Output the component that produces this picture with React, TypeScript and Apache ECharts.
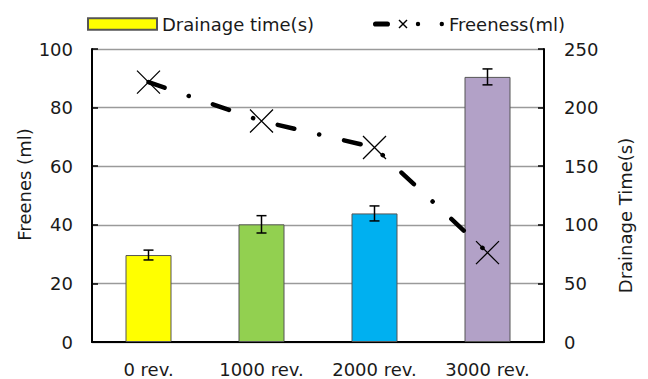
import React, { useEffect, useRef } from "react";
import * as echarts from "echarts";

const categories = ["0 rev.", "1000 rev.", "2000 rev.", "3000 rev."];
const drainageTime = [74.2, 100.4, 109.7, 226.2];
const drainageErr = [4.2, 7.4, 6.4, 6.8];
const freeness = [88.7, 75.4, 66.4, 30.5];
const barColors = ["#FFFF00", "#92D050", "#00B0F0", "#B2A1C7"];
const leftTicks = { min: 0, max: 100, interval: 20 };
const rightTicks = { min: 0, max: 250, interval: 50 };

const FONT = "DejaVu Sans";
const TXT = "#1a1a1a";

const freenessIcon =
  "path://M0,0L0.01,0L0.01,0.01Z M71,10L70.99,10L70.99,9.99Z " +
  "M2.6,2.4L14.4,2.4A2.6,2.6 0 0 1 14.4,7.6L2.6,7.6A2.6,2.6 0 0 1 2.6,2.4Z " +
  "M25.5,1.5L26.5,0.5L34.5,8.5L33.5,9.5Z M33.5,0.5L34.5,1.5L26.5,9.5L25.5,8.5Z " +
  "M42.8,5A2.2,2.2 0 1 0 47.2,5A2.2,2.2 0 1 0 42.8,5Z " +
  "M66.6,5A2.2,2.2 0 1 0 71,5A2.2,2.2 0 1 0 66.6,5Z";

export default function App() {
  const ref = useRef<HTMLDivElement>(null);
  useEffect(() => {
    if (!ref.current) return;
    const chart = echarts.init(ref.current, undefined, { renderer: "svg" });
    const errData = drainageTime.map((v, i) => [i, v - drainageErr[i], v + drainageErr[i]]);
    chart.setOption({
      animation: false,
      textStyle: { fontFamily: FONT, color: TXT },
      legend: [
        {
          data: [{ name: "Drainage time(s)", icon: "rect" }],
          left: 82,
          top: 10,
          itemWidth: 69,
          itemHeight: 11.5,
          itemGap: 0,
          textStyle: { fontFamily: FONT, fontSize: 18, color: TXT },
        },
        {
          data: [{ name: "Freeness(ml)", icon: freenessIcon }],
          left: 368,
          top: 10,
          itemWidth: 71,
          itemHeight: 10,
          itemStyle: { color: "#000", borderWidth: 0 },
          textStyle: { fontFamily: FONT, fontSize: 18, color: TXT },
        },
      ],
      grid: { left: 92, right: 104, top: 49, bottom: 37 },
      xAxis: [
        {
          type: "category",
          data: categories,
          boundaryGap: true,
          axisLine: { lineStyle: { color: "#000", width: 2 } },
          axisTick: { inside: true, length: 5, lineStyle: { color: "#000", width: 1.5 } },
          axisLabel: { interval: 0, fontFamily: FONT, fontSize: 18, color: TXT, margin: 18 },
        },
        {
          type: "category",
          data: categories,
          position: "bottom",
          boundaryGap: true,
          axisLine: { show: false },
          axisTick: { alignWithLabel: true, interval: 0, inside: true, length: 5, lineStyle: { color: "#000", width: 1.5 } },
          axisLabel: { show: false },
        },
      ],
      yAxis: [
        {
          type: "value",
          ...leftTicks,
          name: "Freenes (ml)",
          nameLocation: "middle",
          nameGap: 59,
          nameMoveOverlap: false,
          nameTextStyle: { fontFamily: FONT, fontSize: 18, color: TXT, padding: [0, 0, 0, 22] },
          axisLine: { show: true, lineStyle: { color: "#000", width: 2 } },
          axisTick: { show: true, inside: true, length: 6, lineStyle: { color: "#000", width: 1.5 } },
          axisLabel: { fontFamily: FONT, fontSize: 18, color: TXT, margin: 19 },
          splitLine: { show: true, lineStyle: { color: "#9a9a9a", width: 1.3 } },
        },
        {
          type: "value",
          ...rightTicks,
          position: "right",
          name: "Drainage Time(s)",
          nameLocation: "middle",
          nameGap: 72,
          nameMoveOverlap: false,
          nameTextStyle: { fontFamily: FONT, fontSize: 18, color: TXT, padding: [0, 40, 0, 0] },
          axisLine: { show: true, lineStyle: { color: "#000", width: 2 } },
          axisTick: { show: true, inside: true, length: 6, lineStyle: { color: "#000", width: 1.5 } },
          axisLabel: { fontFamily: FONT, fontSize: 18, color: TXT, margin: 20 },
          splitLine: { show: false },
        },
      ],
      series: [
        {
          name: "Drainage time(s)",
          type: "bar",
          xAxisIndex: 0,
          yAxisIndex: 1,
          barWidth: 46,
          itemStyle: { color: barColors[0], borderColor: "#555", borderWidth: 1 },
          data: drainageTime.map((v, i) => ({ value: v, itemStyle: { color: barColors[i] } })),
        },
        {
          name: "err",
          type: "custom",
          xAxisIndex: 0,
          yAxisIndex: 1,
          encode: { x: 0, y: [1, 2] },
          data: errData,
          z: 3,
          renderItem: (params: any, api: any) => {
            const x = api.value(0);
            const lo = api.coord([x, api.value(1)]);
            const hi = api.coord([x, api.value(2)]);
            const hw = 5;
            const st = { stroke: "#000", lineWidth: 1.5 };
            return {
              type: "group",
              children: [
                { type: "line", shape: { x1: lo[0], y1: lo[1], x2: hi[0], y2: hi[1] }, style: st },
                { type: "line", shape: { x1: lo[0] - hw, y1: lo[1], x2: lo[0] + hw, y2: lo[1] }, style: st },
                { type: "line", shape: { x1: hi[0] - hw, y1: hi[1], x2: hi[0] + hw, y2: hi[1] }, style: st },
              ],
            };
          },
        },
        {
          name: "Freeness(ml)",
          type: "line",
          xAxisIndex: 0,
          yAxisIndex: 0,
          z: 5,
          data: freeness,
          symbol: "path://M0,0L10,10M10,0L0,10",
          symbolSize: 23,
          itemStyle: { color: "#000", borderColor: "#000", borderWidth: 1.3 },
          lineStyle: { color: "#000", width: 4.5, type: [17, 25.5, 0.1, 25.5], cap: "round" },
        },
      ],
    });
    return () => chart.dispose();
  }, []);
  return (
    <div
      ref={ref}
      style={{ position: "absolute", left: 0, top: 0, width: 648, height: 379 }}
    />
  );
}
